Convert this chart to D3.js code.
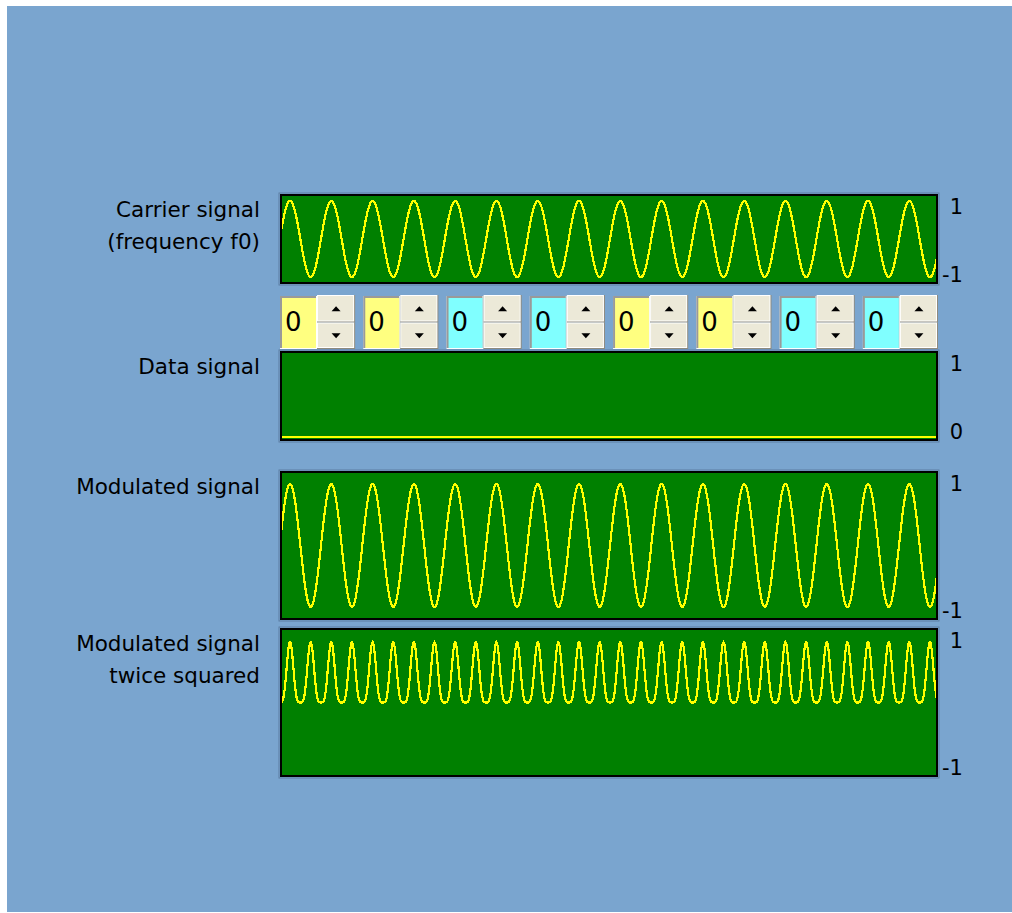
<!DOCTYPE html>
<html>
<head>
<meta charset="utf-8">
<script src="https://cdn.jsdelivr.net/npm/d3@7"></script>
<style>
  html, body { margin: 0; padding: 0; background: #ffffff; }
  svg { display: block; }
  text { font-family: "DejaVu Sans", sans-serif; fill: #000; }
</style>
</head>
<body>
<div id="chart"></div>
<script>
// Transmitted bits, one per spin box
const bits = [0, 0, 0, 0, 0, 0, 0, 0];
// Carrier periods per bit interval
const cyclesPerBit = [2];
// Panel titles (one entry per line)
const panelTitles = [
  ["Carrier signal", "(frequency f0)"],
  ["Data signal"],
  ["Modulated signal"],
  ["Modulated signal", "twice squared"]
];
// Value range (top, bottom) and end labels of each panel
const panelRanges = [[1, -1], [1, 0], [1, -1], [1, -1]];
const axisLabels = [["1", "-1"], ["1", "0"], ["1", "-1"], ["1", "-1"]];

const W = 1012, H = 913;
const svg = d3.select("#chart").append("svg").attr("width", W).attr("height", H);

// window background
svg.append("rect").attr("x", 7).attr("y", 6).attr("width", W - 7).attr("height", H - 7)
  .attr("fill", "#7aa5cf");

// panel frames (outer box)
const panels = [
  { top: 194, bottom: 284, pad: 1.13 },
  { top: 351, bottom: 441, pad: 0 },
  { top: 471, bottom: 620, pad: 1.18 },
  { top: 628, bottom: 777, pad: 1.2 }
];
const left = 280, right = 938;

// time axis shared by all waveforms, in bit intervals
const x = d3.scaleLinear().domain([0, bits.length]).range([279.7, 940.3]);

const f = cyclesPerBit[0];
const bitAt = t => bits[Math.min(bits.length - 1, Math.max(0, Math.floor(t)))];
const carrier = t => Math.sin(2 * Math.PI * f * t);
const dataSig = t => bitAt(t);
const modulated = t => Math.sin(2 * Math.PI * f * t + Math.PI * bitAt(t));
const squaredTwice = t => Math.pow(Math.pow(modulated(t), 2), 2);
const signals = [carrier, dataSig, modulated, squaredTwice];

const times = d3.range(0, bits.length + 1e-9, 1 / 200);

const defs = svg.append("defs");

panels.forEach((p, i) => {
  const g = svg.append("g");
  const inTop = p.top + 2, inBot = p.bottom - 2;

  // y scale for the waveform
  let y;
  if (i === 1) {
    y = d3.scaleLinear().domain([-0.03, 1.1]).range([inBot, inTop]);
  } else {
    y = d3.scaleLinear().domain([-p.pad, p.pad]).range([inBot, inTop]);
  }

  // soft shadow around the frame
  g.append("rect").attr("x", left - 1).attr("y", p.top - 1)
    .attr("width", right - left + 2).attr("height", p.bottom - p.top + 2)
    .attr("fill", "none").attr("stroke", "#5d7fa3").attr("stroke-width", 1);

  g.append("rect").attr("x", left + 1).attr("y", p.top + 1)
    .attr("width", right - left - 2).attr("height", p.bottom - p.top - 2)
    .attr("fill", "#008000").attr("stroke", "#000").attr("stroke-width", 2);

  const clipId = "clip" + i;
  defs.append("clipPath").attr("id", clipId).append("rect")
    .attr("x", left + 2).attr("y", inTop).attr("width", right - left - 4).attr("height", inBot - inTop);

  const line = d3.line().x(t => x(t)).y(t => y(signals[i](t)));
  g.append("path").attr("d", line(times))
    .attr("clip-path", `url(#${clipId})`)
    .attr("fill", "none").attr("stroke", "#ffff00").attr("stroke-width", 2.2)
    .attr("shape-rendering", "crispEdges");

  // end labels on the right
  const lab = d3.scaleLinear().domain([panelRanges[i][1], panelRanges[i][0]])
    .range([p.bottom - 10.5, p.top + 11.5]);
  const ax = d3.axisRight(lab).tickValues(panelRanges[i]).tickSize(0).tickPadding(0)
    .tickFormat((d, k) => axisLabels[i][k]);
  const axG = svg.append("g").attr("transform", `translate(963,0)`).call(ax);
  axG.select(".domain").remove();
  axG.selectAll("text").attr("text-anchor", "end").attr("x", 0).attr("dy", "0.36em")
    .style("font-family", "'DejaVu Sans', sans-serif").style("font-size", "21px").attr("fill", "#000");

  // titles on the left
  panelTitles[i].forEach((s, k) => {
    svg.append("text").attr("x", 260).attr("y", p.top + 23 + 32 * k)
      .attr("text-anchor", "end").style("font-size", "21.5px").text(s);
  });
});

// bit entry spin boxes above the data panel
const band = d3.scaleBand().domain(d3.range(bits.length)).range([280, 938])
  .paddingInner(0.0975).paddingOuter(0);
const boxTop = 296, boxBot = 349, fieldW = 37;
const fieldColour = i => (Math.floor(i / 2) % 2 === 0 ? "#ffff80" : "#80ffff");

bits.forEach((b, i) => {
  const bx = band(i), bw = band.bandwidth();
  const g = svg.append("g");
  // sunken text field
  g.append("rect").attr("x", bx).attr("y", boxTop).attr("width", fieldW).attr("height", boxBot - boxTop)
    .attr("fill", "#ffffff");
  g.append("rect").attr("x", bx).attr("y", boxTop).attr("width", fieldW - 1).attr("height", boxBot - boxTop - 1)
    .attr("fill", "#9a9a9a");
  g.append("rect").attr("x", bx + 2).attr("y", boxTop + 2).attr("width", fieldW - 3).attr("height", boxBot - boxTop - 3)
    .attr("fill", fieldColour(i));
  g.append("text").attr("x", bx + 5).attr("y", boxTop + 35)
    .style("font-size", "26px").attr("fill", "#1a1a1a").text(String(b));

  // up / down buttons
  const sx = bx + fieldW, sw = bw - fieldW;
  const mid = (boxTop + boxBot) / 2;
  [[boxTop - 1, mid], [mid, boxBot]].forEach(([t0, t1], k) => {
    g.append("rect").attr("x", sx).attr("y", t0).attr("width", sw).attr("height", t1 - t0)
      .attr("fill", "#8f8b7e");
    g.append("rect").attr("x", sx).attr("y", t0).attr("width", sw - 1).attr("height", t1 - t0 - 1)
      .attr("fill", "#ffffff");
    g.append("rect").attr("x", sx + 1).attr("y", t0 + 1).attr("width", sw - 3).attr("height", t1 - t0 - 3)
      .attr("fill", "#ece9d8");
    const cx = sx + sw / 2, cy = (t0 + t1) / 2;
    const tri = k === 0
      ? `M${cx - 4.5},${cy + 2.5}L${cx + 4.5},${cy + 2.5}L${cx},${cy - 2.5}Z`
      : `M${cx - 4.5},${cy - 2.5}L${cx + 4.5},${cy - 2.5}L${cx},${cy + 2.5}Z`;
    g.append("path").attr("d", tri).attr("fill", "#000");
  });
});
</script>
</body>
</html>
